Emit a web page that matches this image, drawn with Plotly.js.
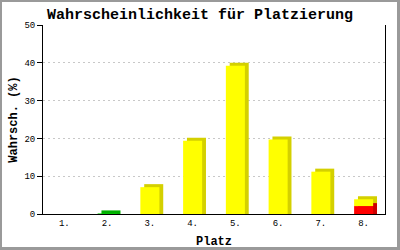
<!DOCTYPE html>
<html>
<head>
<meta charset="utf-8">
<script src="https://cdn.plot.ly/plotly-3.0.1.min.js"></script>
<style>
html,body{margin:0;padding:0;background:#fff;}
#wrap{position:relative;width:400px;height:250px;}
#chart{width:400px;height:250px;}
#frame{position:absolute;left:0;top:0;width:400px;height:250px;box-sizing:border-box;
 border-left:2px solid #9a9a9a;border-top:2px solid #9a9a9a;border-right:3px solid #9a9a9a;border-bottom:3px solid #9a9a9a;pointer-events:none;}
</style>
</head>
<body>
<div id="wrap"><div id="chart"></div><div id="frame"></div></div>
<script>
// Data
const categories = ['1.','2.','3.','4.','5.','6.','7.','8.'];
const redVals    = [0, 0,    0,   0,    0,    0,    0,    2.1];
const greenVals  = [0, 0.15, 0,   0,    0,    0,    0,    0  ];
const yellowVals = [0, 0,    7.1, 19.4, 39.2, 19.7, 11.2, 1.8];
const titleText = 'Wahrscheinlichkeit für Platzierung';
const xTitle = 'Platz';
const yTitle = 'Wahrsch. (%)';

// Styling (3D look)
const barWidth = 0.445;
const depthDx = 0.09;   // category units
const depthDy = 0.8;    // value units
const segs = [
  {vals: redVals,    front: '#ff0000', side: '#cc0000'},
  {vals: greenVals,  front: '#00cc00', side: '#00b000'},
  {vals: yellowVals, front: '#ffff00', side: '#d4d000'}
];

const traces = [];
const bases = categories.map(() => 0);
const segBases = [];
segs.forEach(s => {
  const b = bases.slice();
  segBases.push(b);
  s.vals.forEach((v, i) => bases[i] += v);
});
// depth (behind)
segs.forEach((s, k) => {
  const b = segBases[k];
  traces.push({
    type: 'bar', x: categories,
    y: s.vals.map((v, i) => v > 0 ? (b[i] === 0 ? v + depthDy : v) : 0),
    base: s.vals.map((v, i) => b[i] === 0 ? 0 : b[i] + depthDy),
    width: barWidth, offset: -barWidth / 2 + depthDx,
    marker: {color: s.side, line: {width: 0}},
    hoverinfo: 'skip'
  });
});
// front faces
segs.forEach((s, k) => {
  traces.push({
    type: 'bar', x: categories, y: s.vals, base: segBases[k],
    width: barWidth, offset: -barWidth / 2,
    marker: {color: s.front, line: {width: 0}},
    hoverinfo: 'skip'
  });
});

const mono = 'Liberation Mono, DejaVu Sans Mono, monospace';
const layout = {
  width: 400, height: 250,
  margin: {l: 43, r: 15, t: 25, b: 36, pad: 0},
  paper_bgcolor: '#fff', plot_bgcolor: '#fff',
  barmode: 'overlay', showlegend: false,
  title: {text: titleText, x: 0.5, xref: 'container', xanchor: 'center',
          y: 1 - 14/250, yref: 'container', yanchor: 'middle',
          font: {family: mono, size: 15, color: '#000', weight: 'bold'}},
  xaxis: {type: 'category', showline: true, linecolor: '#000', linewidth: 1,
          ticks: '', showgrid: false, zeroline: false,
          tickfont: {family: mono, size: 9, color: '#000'},
          title: {text: xTitle, font: {family: mono, size: 12, color: '#000', weight: 'bold'}, standoff: 8}},
  yaxis: {range: [0, 50], dtick: 10, tick0: 0, showline: true, mirror: true, linecolor: '#000', linewidth: 1,
          ticks: 'outside', ticklen: 5, tickcolor: '#000', zeroline: false,
          showgrid: true, gridcolor: '#c8c8c8', griddash: '2px,3px', gridwidth: 1,
          tickfont: {family: mono, size: 9, color: '#000'},
          title: {text: yTitle, font: {family: mono, size: 12, color: '#000', weight: 'bold'}, standoff: 4}}
};
Plotly.newPlot('chart', traces, layout, {staticPlot: true, displayModeBar: false});
</script>
</body>
</html>
